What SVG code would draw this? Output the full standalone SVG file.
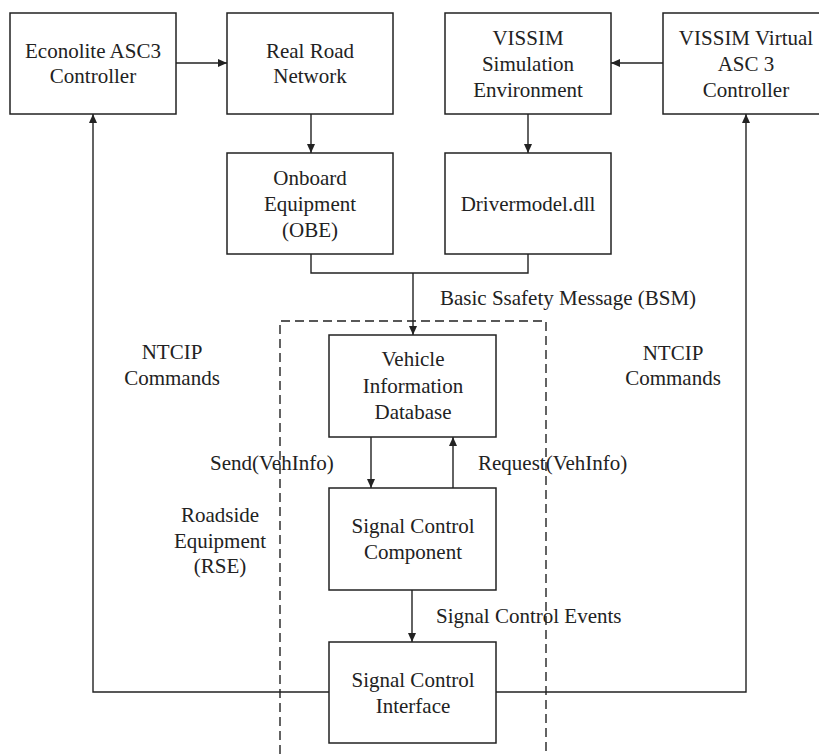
<svg xmlns="http://www.w3.org/2000/svg" width="819" height="754" viewBox="0 0 819 754">
<style>
.box{fill:#fff;stroke:#222;stroke-width:1.5}
.t{font-family:"Liberation Serif","Times New Roman",serif;font-size:21px;fill:#222;text-anchor:middle}
.l{font-family:"Liberation Serif","Times New Roman",serif;font-size:21px;fill:#222}
.c{fill:none;stroke:#222;stroke-width:1.4}
.d{fill:none;stroke:#222;stroke-width:1.4;stroke-dasharray:9 5}
</style>
<defs>
<marker id="ah" markerWidth="10" markerHeight="10" refX="9" refY="4" orient="auto" markerUnits="userSpaceOnUse">
<path d="M0,0 L9,4 L0,8 Z" fill="#222"/>
</marker>
</defs>
<rect width="819" height="754" fill="#fff"/>
<g id="rse-boundary">
<path class="d" d="M280,754 V321 H546 V754"/>
</g>
<g id="connectors">
<line class="c" x1="176" y1="63" x2="227" y2="63" marker-end="url(#ah)"/>
<line class="c" x1="663" y1="63" x2="611" y2="63" marker-end="url(#ah)"/>
<line class="c" x1="311" y1="114" x2="311" y2="153" marker-end="url(#ah)"/>
<line class="c" x1="528" y1="114" x2="528" y2="153" marker-end="url(#ah)"/>
<polyline class="c" points="311,254 311,273 528,273 528,254"/>
<line class="c" x1="413" y1="273" x2="413" y2="335" marker-end="url(#ah)"/>
<line class="c" x1="371" y1="437" x2="371" y2="488" marker-end="url(#ah)"/>
<line class="c" x1="453" y1="488" x2="453" y2="437" marker-end="url(#ah)"/>
<line class="c" x1="412" y1="590" x2="412" y2="642" marker-end="url(#ah)"/>
<polyline class="c" points="329,692 93,692 93,114" marker-end="url(#ah)"/>
<polyline class="c" points="496,692 746,692 746,114" marker-end="url(#ah)"/>
</g>
<g id="econolite">
<rect class="box" x="10" y="13" width="166" height="101"/>
<text class="t" x="93" y="58">Econolite ASC3</text>
<text class="t" x="93" y="83">Controller</text>
</g>
<g id="real-road">
<rect class="box" x="227" y="13" width="166" height="101"/>
<text class="t" x="310" y="58">Real Road</text>
<text class="t" x="310" y="83">Network</text>
</g>
<g id="vissim-sim">
<rect class="box" x="445" y="13" width="166" height="101"/>
<text class="t" x="528" y="45">VISSIM</text>
<text class="t" x="528" y="71">Simulation</text>
<text class="t" x="528" y="97">Environment</text>
</g>
<g id="vissim-virtual">
<rect class="box" x="663" y="13" width="166" height="101"/>
<text class="t" x="746" y="45">VISSIM Virtual</text>
<text class="t" x="746" y="71">ASC 3</text>
<text class="t" x="746" y="97">Controller</text>
</g>
<g id="obe">
<rect class="box" x="227" y="153" width="166" height="101"/>
<text class="t" x="310" y="185">Onboard</text>
<text class="t" x="310" y="211">Equipment</text>
<text class="t" x="310" y="237">(OBE)</text>
</g>
<g id="drivermodel">
<rect class="box" x="445" y="153" width="166" height="101"/>
<text class="t" x="528" y="211">Drivermodel.dll</text>
</g>
<g id="vehicle-db">
<rect class="box" x="329" y="335" width="167" height="102"/>
<text class="t" x="413" y="366">Vehicle</text>
<text class="t" x="413" y="393">Information</text>
<text class="t" x="413" y="419">Database</text>
</g>
<g id="signal-component">
<rect class="box" x="329" y="488" width="167" height="102"/>
<text class="t" x="413" y="533">Signal Control</text>
<text class="t" x="413" y="559">Component</text>
</g>
<g id="signal-interface">
<rect class="box" x="329" y="642" width="167" height="101"/>
<text class="t" x="413" y="687">Signal Control</text>
<text class="t" x="413" y="713">Interface</text>
</g>
<g id="labels">
<text class="l" x="440" y="305">Basic Ssafety Message (BSM)</text>
<text class="t" x="172" y="359">NTCIP</text>
<text class="t" x="172" y="385">Commands</text>
<text class="t" x="673" y="360">NTCIP</text>
<text class="t" x="673" y="385">Commands</text>
<text class="l" x="210" y="470">Send(VehInfo)</text>
<text class="l" x="478" y="470">Request(VehInfo)</text>
<text class="t" x="220" y="522">Roadside</text>
<text class="t" x="220" y="548">Equipment</text>
<text class="t" x="220" y="573">(RSE)</text>
<text class="l" x="436" y="623">Signal Control Events</text>
</g>
</svg>
